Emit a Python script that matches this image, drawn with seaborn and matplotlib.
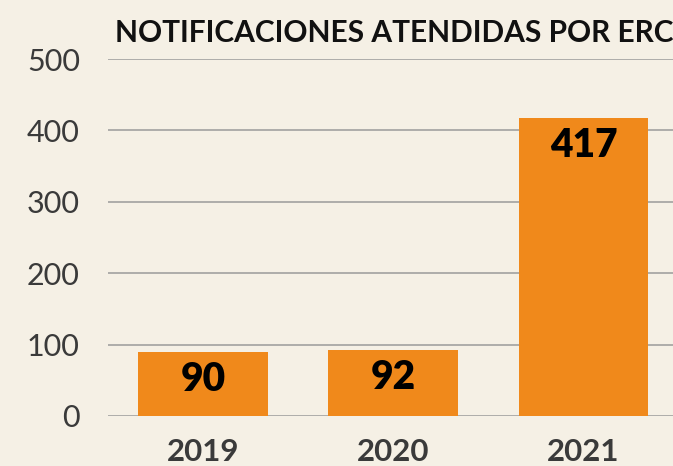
import matplotlib
matplotlib.use("Agg")
import matplotlib.pyplot as plt
import seaborn as sns
import pandas as pd

# Data
years = ["2019", "2020", "2021"]
notifications = [90, 92, 417]
y_ticks = [0, 100, 200, 300, 400, 500]
title = "NOTIFICACIONES ATENDIDAS POR ERC"

bg_color = "#f5f0e5"
bar_color = "#f0891b"

sns.set_theme(style="white")
plt.rcParams["font.family"] = ["Lato", "DejaVu Sans"]

df = pd.DataFrame({"year": years, "count": notifications})

fig = plt.figure(figsize=(6.73, 4.66), dpi=100)
fig.patch.set_facecolor(bg_color)
ax = fig.add_axes([0.16, 0.1073, 0.84, 0.766])
ax.set_facecolor(bg_color)

sns.barplot(data=df, x="year", y="count", color=bar_color, saturation=1,
            width=0.68, linewidth=0, ax=ax, zorder=3)

ax.set_ylim(0, 500)
ax.set_xlim(-0.5, 2.47)
ax.set_yticks(y_ticks)
ax.yaxis.grid(True, color="#9a9a9a", linewidth=1.1, zorder=0)
ax.set_axisbelow(True)
sns.despine(ax=ax, left=True, bottom=True, top=True, right=True)
ax.set_xlabel("")
ax.set_ylabel("")
ax.tick_params(axis="y", length=0, pad=20, labelsize=22, labelcolor="#3a3a3a")
ax.tick_params(axis="x", length=0, pad=16, labelsize=22.5, labelcolor="#3a3a3a")
for lbl in ax.get_xticklabels():
    lbl.set_fontweight("bold")

# value labels inside the bars
for i, v in enumerate(notifications):
    ax.annotate(str(v), (i, v), xytext=(0, -6.5), textcoords="offset points",
                ha="center", va="top", fontsize=28, fontweight="heavy",
                color="black", zorder=4)

fig.text(115 / 673, 1 - 33 / 466, title, ha="left", va="center",
         fontsize=21.5, fontweight="bold", color="#111111")

fig.savefig("out.png", dpi=100, facecolor=bg_color)
